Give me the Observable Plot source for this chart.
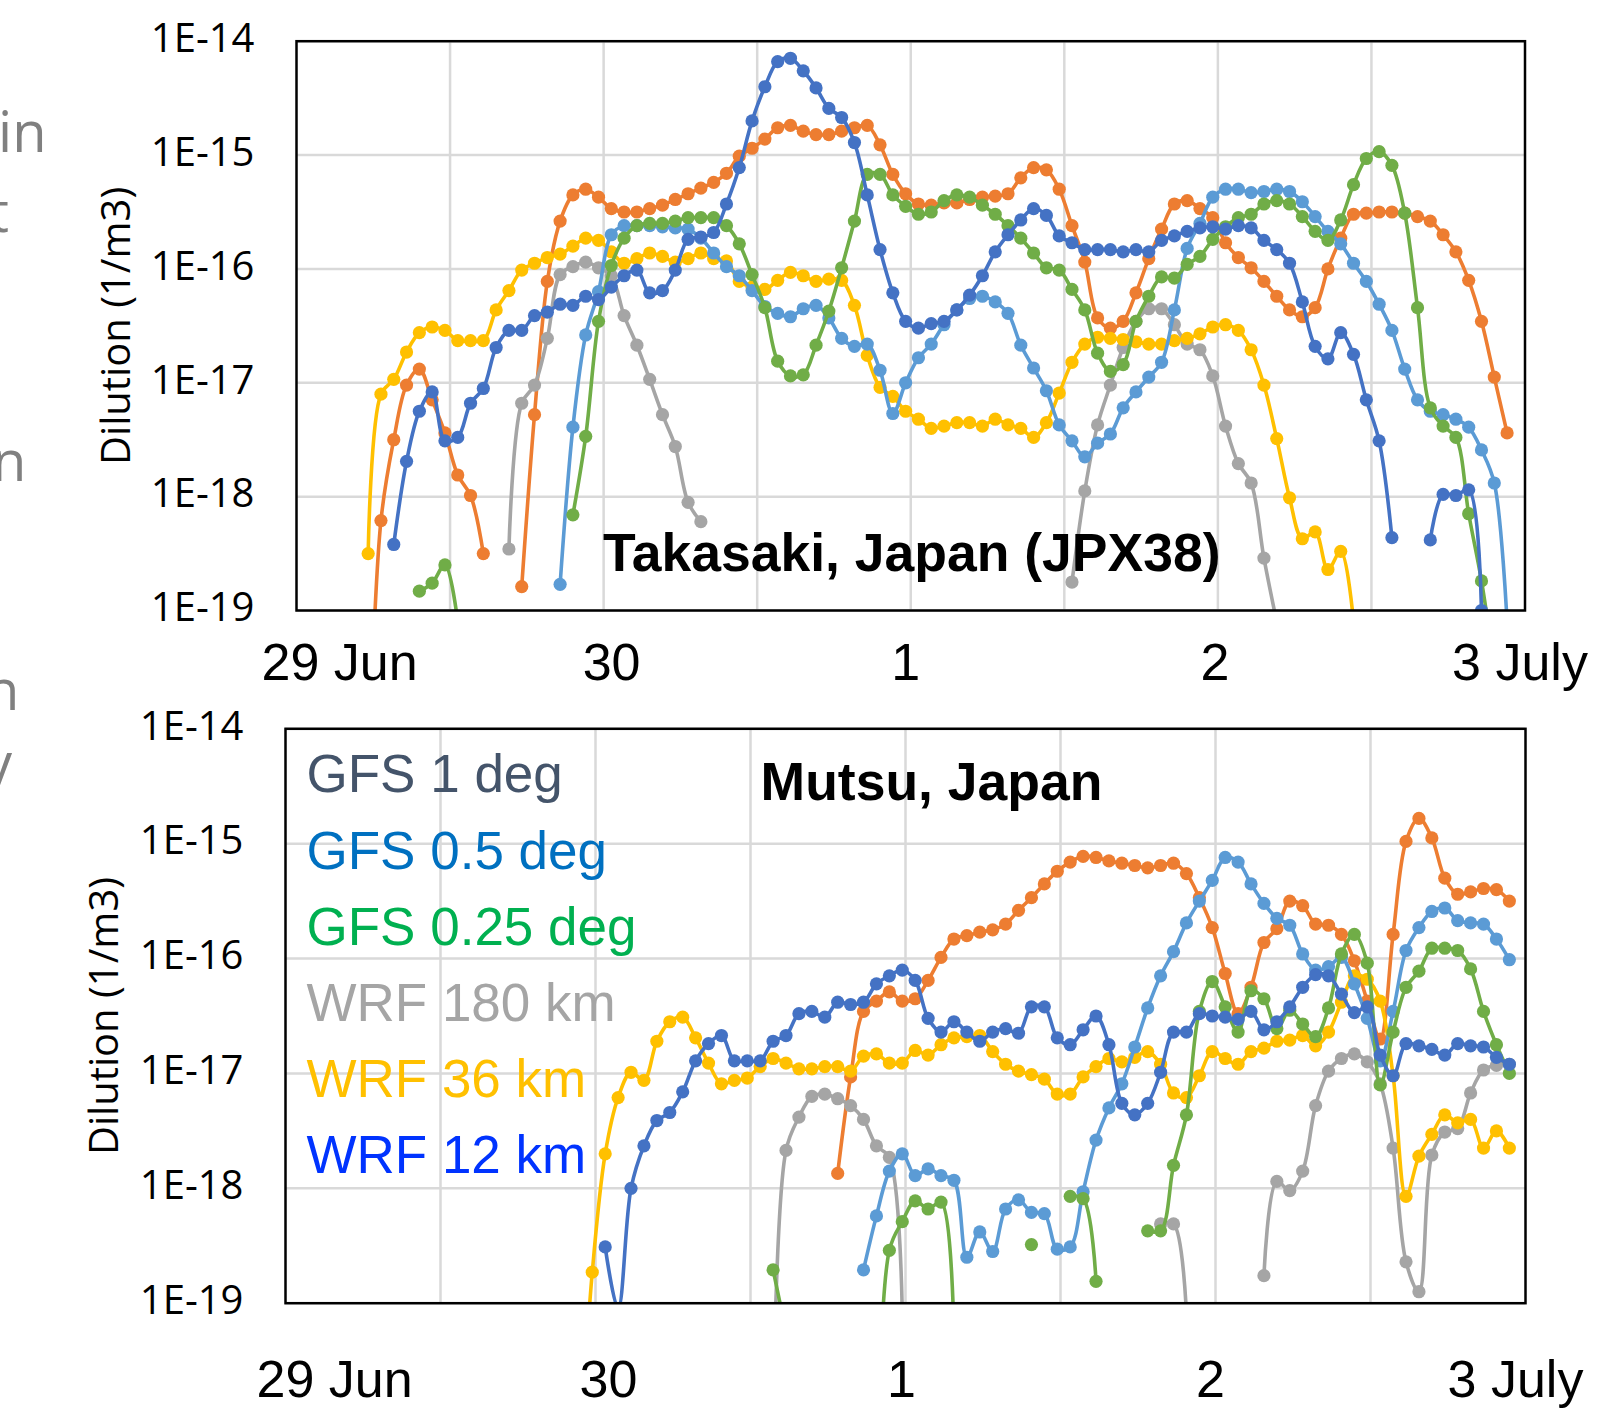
<!DOCTYPE html>
<html>
<head>
<meta charset="utf-8">
<script src="https://cdn.jsdelivr.net/npm/d3@7"></script>
<script src="https://cdn.jsdelivr.net/npm/@observablehq/plot@0.6"></script>
<style>
  body { margin: 0; background: #fff; }
  #page { position: relative; width: 1597px; height: 1418px; overflow: hidden; background: #fff; }
  #page svg { position: absolute; left: 0; }
  .frag { position: absolute; font-family: "Open Sans", sans-serif; font-size: 56px; color: #808080; line-height: 1; white-space: nowrap; }
</style>
</head>
<body>
<div id="page">
  <span class="frag" style="left:-2px;top:102px">in</span>
  <span class="frag" style="left:-11px;top:182px">t</span>
  <span class="frag" style="left:-8px;top:431px">n</span>
  <span class="frag" style="left:-15px;top:660px">n</span>
  <span class="frag" style="left:-16px;top:733px">y</span>
</div>
<script>
// ---- Data: log10 of dilution (1/m3), hourly index 0..95 from 29 Jun 00h; null = no value ----
const N = null;
const seriesNames  = ["GFS 1 deg", "GFS 0.5 deg", "GFS 0.25 deg", "WRF 180 km", "WRF 36 km", "WRF 12 km"];
const seriesColors = ["#ED7D31", "#5B9BD5", "#70AD47", "#A5A5A5", "#FFC000", "#4472C4"];
const legendColors = ["#44546A", "#0070C0", "#00B050", "#A5A5A5", "#FFC000", "#0033FF"];
const drawOrder = [0, 3, 4, 1, 2, 5];

const xTickValues = [0, 24, 48, 72, 96];
const xTickLabels = ["29 Jun", "30", "1", "2", "3 July"];
const xGridValues = [12, 24, 36, 48, 60, 72, 84];
const yTickValues = [1e-14, 1e-15, 1e-16, 1e-17, 1e-18, 1e-19];
const yTickLabels = ["1E-14", "1E-15", "1E-16", "1E-17", "1E-18", "1E-19"];

// Takasaki, Japan (JPX38)
const takGfs1 = [
  N,N,N,N,N,-20.5,-18.21,-17.50,-17.02,-16.88,-17.15,-17.44,
  -17.81,-17.99,-18.50,N,N,-18.79,-17.28,-16.11,-15.58,-15.35,-15.30,-15.37,
  -15.47,-15.50,-15.50,-15.47,-15.44,-15.39,-15.34,-15.29,-15.24,-15.16,-15.01,-14.94,
  -14.86,-14.76,-14.74,-14.79,-14.82,-14.82,-14.79,-14.76,-14.74,-14.91,-15.17,-15.34,
  -15.43,-15.44,-15.42,-15.42,-15.39,-15.37,-15.36,-15.34,-15.20,-15.11,-15.13,-15.30,
  -15.62,-15.94,-16.43,-16.52,-16.46,-16.21,-15.91,-15.65,-15.43,-15.40,-15.47,-15.55,
  -15.77,-15.90,-15.99,-16.11,-16.24,-16.36,-16.42,-16.34,-16.00,-15.73,-15.52,-15.51,
  -15.50,-15.50,-15.51,-15.54,-15.58,-15.70,-15.85,-16.10,-16.46,-16.95,-17.44,N];
const takGfs05 = [
  N,N,N,N,N,N,N,N,N,N,N,N,
  N,N,N,N,N,N,N,N,-18.77,-17.39,-16.58,-16.20,
  -15.70,-15.62,-15.62,-15.62,-15.63,-15.64,-15.65,-15.73,-15.86,-15.98,-16.06,-16.19,
  -16.33,-16.39,-16.42,-16.35,-16.32,-16.43,-16.61,-16.68,-16.66,-16.89,-17.27,-17.00,
  -16.78,-16.66,-16.49,-16.36,-16.26,-16.24,-16.29,-16.39,-16.67,-16.87,-17.07,-17.37,
  -17.51,-17.65,-17.53,-17.45,-17.22,-17.08,-16.95,-16.82,-16.36,-15.82,-15.60,-15.37,
  -15.30,-15.30,-15.33,-15.32,-15.30,-15.32,-15.41,-15.54,-15.67,-15.78,-15.95,-16.11,
  -16.31,-16.54,-16.88,-17.15,-17.25,-17.28,-17.32,-17.39,-17.59,-17.88,-19.1,N];
const takGfs025 = [
  N,N,N,N,N,N,N,N,N,-18.83,-18.76,-18.60,
  -19.1,N,N,N,N,N,N,N,N,-18.16,-17.47,-16.46,
  -15.97,-15.73,-15.62,-15.60,-15.60,-15.58,-15.55,-15.55,-15.55,-15.62,-15.78,-16.05,
  -16.34,-16.81,-16.94,-16.93,-16.67,-16.37,-15.99,-15.58,-15.17,-15.17,-15.35,-15.45,
  -15.52,-15.50,-15.40,-15.35,-15.37,-15.44,-15.52,-15.62,-15.73,-15.86,-15.99,-16.01,
  -16.18,-16.36,-16.74,-16.90,-16.84,-16.46,-16.24,-16.07,-16.08,-15.96,-15.89,-15.74,
  -15.63,-15.55,-15.52,-15.43,-15.40,-15.43,-15.54,-15.67,-15.75,-15.57,-15.26,-15.03,
  -14.97,-15.09,-15.51,-16.34,-17.22,-17.38,-17.48,-18.15,-18.74,-19.5,N,N];
const takWrf180 = [
  N,N,N,N,N,N,N,N,N,N,N,N,
  N,N,N,N,-18.46,-17.18,-17.02,-16.61,-16.05,-15.98,-15.94,-15.99,
  -16.06,-16.41,-16.67,-16.97,-17.28,-17.56,-18.05,-18.22,N,N,N,N,
  N,N,N,N,N,N,N,N,N,N,N,N,
  N,N,N,N,N,N,N,N,N,N,N,N,
  -18.75,-17.95,-17.37,-17.02,-16.69,-16.46,-16.35,-16.35,-16.49,-16.66,-16.71,-16.94,
  -17.38,-17.71,-17.88,-18.54,-19.1,N,N,N,N,N,N,N,
  N,N,N,N,N,N,N,N,N,N,N,N];
const takWrf36 = [
  N,N,N,N,N,-18.50,-17.10,-16.97,-16.73,-16.56,-16.51,-16.54,
  -16.63,-16.63,-16.63,-16.36,-16.19,-16.01,-15.95,-15.90,-15.87,-15.80,-15.73,-15.75,
  -15.85,-15.95,-15.91,-15.86,-15.89,-15.94,-15.91,-15.86,-15.91,-15.93,-16.11,-16.16,
  -16.18,-16.10,-16.03,-16.06,-16.11,-16.09,-16.10,-16.32,-16.76,-17.04,-17.12,-17.25,
  -17.32,-17.40,-17.38,-17.35,-17.35,-17.38,-17.32,-17.37,-17.40,-17.48,-17.35,-17.09,
  -16.82,-16.66,-16.60,-16.61,-16.62,-16.64,-16.66,-16.66,-16.63,-16.61,-16.57,-16.51,
  -16.49,-16.54,-16.71,-17.02,-17.49,-18.01,-18.37,-18.31,-18.64,-18.48,-19.1,N,
  N,N,N,N,N,N,N,N,N,N,N,N];
const takWrf12 = [
  N,N,N,N,N,N,N,-18.42,-17.69,-17.25,-17.08,-17.51,
  -17.48,-17.18,-17.05,-16.69,-16.54,-16.54,-16.41,-16.38,-16.31,-16.32,-16.24,-16.27,
  -16.16,-16.06,-16.01,-16.21,-16.19,-16.01,-15.74,-15.72,-15.68,-15.43,-15.11,-14.70,
  -14.40,-14.18,-14.15,-14.26,-14.41,-14.59,-14.67,-14.89,-15.35,-15.83,-16.21,-16.46,
  -16.52,-16.48,-16.46,-16.36,-16.23,-16.06,-15.85,-15.70,-15.57,-15.47,-15.53,-15.71,
  -15.77,-15.83,-15.83,-15.83,-15.85,-15.83,-15.85,-15.75,-15.71,-15.67,-15.64,-15.63,
  -15.65,-15.62,-15.64,-15.75,-15.83,-15.95,-16.29,-16.68,-16.79,-16.56,-16.75,-17.15,
  -17.51,-18.36,N,N,-18.38,-17.98,-17.99,-17.94,-19.0,N,N,N];

// Mutsu, Japan
const mutGfs1 = [
  N,N,N,N,N,N,N,N,N,N,N,N,
  N,N,N,N,N,N,N,N,N,N,N,N,
  N,N,N,N,N,N,N,N,N,N,N,N,
  N,N,N,N,N,N,-17.87,-17.03,-16.46,-16.37,-16.29,-16.37,
  -16.35,-16.19,-15.99,-15.83,-15.80,-15.77,-15.75,-15.70,-15.58,-15.47,-15.35,-15.24,
  -15.16,-15.11,-15.12,-15.15,-15.17,-15.19,-15.21,-15.19,-15.17,-15.26,-15.47,-15.73,
  -16.13,-16.48,-16.25,-15.86,-15.74,-15.50,-15.54,-15.70,-15.71,-15.79,-16.02,-16.37,
  -16.70,-15.79,-14.98,-14.78,-14.95,-15.30,-15.44,-15.42,-15.39,-15.40,-15.50,N];
const mutGfs05 = [
  N,N,N,N,N,N,N,N,N,N,N,N,
  N,N,N,N,N,N,N,N,N,N,N,N,
  N,N,N,N,N,N,N,N,N,N,N,N,
  N,N,N,N,N,N,N,N,-18.71,-18.24,-17.85,-17.70,
  -17.89,-17.83,-17.89,-17.93,-18.60,-18.38,-18.55,-18.18,-18.10,-18.21,-18.22,-18.53,
  -18.51,-18.03,-17.58,-17.30,-17.09,-16.77,-16.43,-16.15,-15.94,-15.69,-15.50,-15.32,
  -15.12,-15.16,-15.35,-15.52,-15.65,-15.71,-15.96,-16.10,-16.07,-15.99,-16.22,-16.52,
  -16.89,-16.46,-15.93,-15.73,-15.59,-15.56,-15.67,-15.69,-15.70,-15.83,-16.01,N];
const mutGfs025 = [
  N,N,N,N,N,N,N,N,N,N,N,N,
  N,N,N,N,N,N,N,N,N,N,N,N,
  N,N,N,N,N,N,N,N,N,N,N,N,
  N,-18.71,-19.25,N,N,N,N,N,N,-21.0,-18.54,-18.29,
  -18.11,-18.18,-18.12,-19.31,N,N,N,N,N,-18.49,N,N,
  -18.07,-18.09,-18.81,N,N,N,-18.37,-18.37,-17.80,-17.36,-16.46,-16.20,
  -16.42,-16.64,-16.28,-16.35,-16.61,-16.45,-16.57,-16.68,-16.43,-15.96,-15.79,-16.04,
  -17.10,-16.64,-16.25,-16.11,-15.91,-15.91,-15.93,-16.09,-16.46,-16.75,-17.00,N];
const mutWrf180 = [
  N,N,N,N,N,N,N,N,N,N,N,N,
  N,N,N,N,N,N,N,N,N,N,N,N,
  N,N,N,N,N,N,N,N,N,N,N,N,
  N,-20.0,-17.67,-17.38,-17.20,-17.18,-17.22,-17.28,-17.40,-17.63,-17.73,-19.1,
  N,N,N,N,N,N,N,N,N,N,N,N,
  N,N,N,N,N,N,N,-18.31,-18.31,-19.1,N,N,
  N,N,N,-18.76,-17.94,-18.02,-17.85,-17.28,-16.98,-16.87,-16.83,-16.90,
  -17.09,-17.65,-18.64,-18.90,-17.71,-17.51,-17.48,-17.17,-16.97,-16.93,-16.92,N];
const mutWrf36 = [
  N,N,N,N,N,N,N,N,N,N,N,N,
  N,N,N,N,N,N,N,N,N,N,-20.4,-18.73,
  -17.70,-17.21,-16.99,-17.06,-16.72,-16.55,-16.51,-16.69,-16.91,-17.09,-17.06,-17.04,
  -16.94,-16.87,-16.91,-16.96,-16.96,-16.94,-16.94,-16.98,-16.85,-16.83,-16.91,-16.91,
  -16.80,-16.84,-16.75,-16.69,-16.68,-16.67,-16.81,-16.92,-16.98,-17.01,-17.05,-17.18,
  -17.18,-17.03,-16.94,-16.87,-16.90,-16.86,-16.81,-16.92,-17.17,-17.21,-17.02,-16.81,
  -16.87,-16.92,-16.81,-16.78,-16.72,-16.71,-16.67,-16.76,-16.64,-16.38,-16.15,-16.18,
  -16.37,-17.02,-18.07,-17.72,-17.53,-17.36,-17.43,-17.40,-17.65,-17.50,-17.65,N];
const mutWrf12 = [
  N,N,N,N,N,N,N,N,N,N,N,N,
  N,N,N,N,N,N,N,N,N,N,N,N,
  -18.51,-19.05,-18.00,-17.63,-17.41,-17.34,-17.16,-16.89,-16.74,-16.67,-16.89,-16.89,
  -16.89,-16.72,-16.67,-16.48,-16.46,-16.51,-16.38,-16.40,-16.38,-16.22,-16.15,-16.10,
  -16.19,-16.52,-16.64,-16.55,-16.64,-16.72,-16.64,-16.61,-16.65,-16.42,-16.42,-16.69,
  -16.75,-16.62,-16.50,-16.75,-17.26,-17.36,-17.26,-16.99,-16.64,-16.64,-16.48,-16.50,
  -16.51,-16.53,-16.46,-16.62,-16.55,-16.42,-16.25,-16.14,-16.15,-16.31,-16.47,-16.42,
  -16.84,-17.02,-16.74,-16.76,-16.79,-16.84,-16.74,-16.76,-16.77,-16.86,-16.92,N];

const takasakiSeries = [takGfs1, takGfs05, takGfs025, takWrf180, takWrf36, takWrf12];
const mutsuSeries    = [mutGfs1, mutGfs05, mutGfs025, mutWrf180, mutWrf36, mutWrf12];

// ---- Drawing ----
const toRows = (vals, offset) =>
  vals.map((e, i) => ({t: i + offset, v: e == null ? NaN : Math.pow(10, e)}));

function panel(o) {
  const marks = [
    Plot.ruleY(yTickValues, {stroke: "#d9d9d9", strokeWidth: 2.5}),
    Plot.ruleX(xGridValues, {stroke: "#d9d9d9", strokeWidth: 2.5})
  ];
  for (const k of drawOrder) {
    const rows = toRows(o.series[k], o.offset);
    marks.push(Plot.line(rows, {x: "t", y: "v", stroke: seriesColors[k], strokeWidth: 3.6, curve: "catmull-rom", clip: true}));
    marks.push(Plot.dot(rows, {x: "t", y: "v", fill: seriesColors[k], r: 6.6, clip: true}));
  }
  marks.push(Plot.frame({stroke: "#000", strokeWidth: 2.5}));
  // y tick labels
  marks.push(Plot.text(yTickValues, {
    y: d => d, text: d => yTickLabels[yTickValues.indexOf(d)],
    frameAnchor: "left", textAnchor: "end", dx: -42, dy: -2,
    fontSize: 40, fontFamily: "Open Sans", fill: "#000"
  }));
  // y title
  marks.push(Plot.text(["Dilution (1/m3)"], {
    text: d => d, frameAnchor: "left", textAnchor: "middle", lineAnchor: "middle",
    rotate: -90, dx: o.yTitleDx, dy: o.yTitleDy,
    fontSize: 40, fontFamily: "Open Sans", fill: "#000"
  }));
  // x labels (one mark each, nudged as in the original)
  xTickValues.forEach((v, j) => {
    marks.push(Plot.text([v], {
      x: d => d, text: d => xTickLabels[xTickValues.indexOf(d)], frameAnchor: "bottom",
      textAnchor: j === 0 ? "start" : "middle",
      lineAnchor: "top", dy: o.xPad, dx: o.labelDx[j],
      fontSize: 52, fontFamily: "Liberation Sans", fill: "#000"
    }));
  });
  // title
  marks.push(Plot.text([o.title], {
    text: d => d, frameAnchor: o.titleAnchor, textAnchor: "middle", lineAnchor: "bottom",
    dx: o.titleDx, dy: o.titleDy,
    fontSize: 53.5, fontWeight: "bold", fontFamily: "Liberation Sans", fill: "#000"
  }));
  if (o.legend) {
    seriesNames.forEach((name, k) => {
      marks.push(Plot.text([name], {
        text: d => d, frameAnchor: "top-left", textAnchor: "start", lineAnchor: "bottom",
        dx: 21, dy: 63.5 + k * 76.2,
        fontSize: 53, fontFamily: "Liberation Sans", fill: legendColors[k]
      }));
    });
  }
  const svg = Plot.plot({
    width: 1597, height: o.height,
    marginTop: o.mt, marginBottom: o.mb, marginLeft: o.ml, marginRight: o.mr,
    x: {domain: [0, 96], axis: null},
    y: {type: "log", domain: [1e-19, 1e-14], axis: null},
    style: {background: "transparent", color: "#000", overflow: "visible"},
    marks
  });
  svg.style.top = o.top + "px";
  return svg;
}

const page = document.getElementById("page");
page.appendChild(panel({
  top: 0, height: 690, mt: 40.7, mb: 80, ml: 296, mr: 72.5,
  offset: 0.6, series: takasakiSeries,
  title: "Takasaki, Japan (JPX38)", titleAnchor: "bottom", titleDx: 1, titleDy: -40,
  yTitleDx: -179, yTitleDy: 0, xPad: 33, labelDx: [-35, 8, -5, -3, -5], legend: false
}));
page.appendChild(panel({
  top: 690, height: 728, mt: 38.3, mb: 115.3, ml: 285, mr: 72,
  offset: 0.75, series: mutsuSeries,
  title: "Mutsu, Japan", titleAnchor: "top", titleDx: 26, titleDy: 70.7,
  yTitleDx: -180, yTitleDy: 0, xPad: 57, labelDx: [-29, 13, -4, -5, -10], legend: true
}));
</script>
</body>
</html>
